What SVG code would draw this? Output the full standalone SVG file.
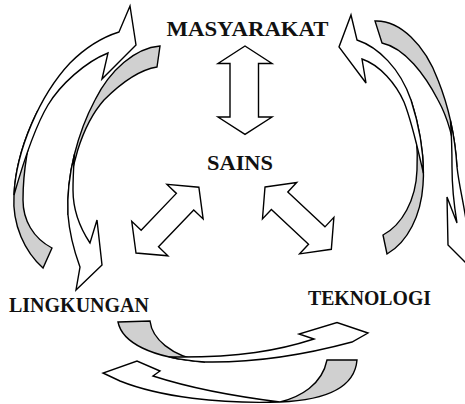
<svg xmlns="http://www.w3.org/2000/svg" width="465" height="404" viewBox="0 0 465 404">
<style>
.w{fill:#ffffff;stroke:#000;stroke-width:1.4;stroke-linejoin:miter}
.g{fill:#d0d0d0;stroke:#000;stroke-width:1.4;stroke-linejoin:miter}
.t{font-family:"Liberation Serif","Times New Roman",serif;font-weight:bold;fill:#111}
</style>
<defs>
<path id="dbl" d="M0,0 L20,-25 L20,-12 L71,-12 L71,-25 L91,0 L71,25 L71,12 L20,12 L20,25 Z"/>
</defs>
<rect width="465" height="404" fill="#fff"/>
<g id="connectors">
<g id="left-cycle">
<path class="g" d="M160,46 C135,48 110,70 95,100 C78,132 66,175 68,215 C68,170 82,125 104,100 C118,86 138,70 157,67 Z"/>
<path class="w" d="M74.4,154.5 C69.5,174.25 67,195 68,215 C70,240 76,256 80,267 L76,290 L102,265 L97,220 L90,243 C80,228 73,210 73,190 C73,175 74,162 74.4,154.5 Z"/>
<path class="g" d="M52,248 L43,268 C25,252 12,225 14,195 C15.2,168 24.32,137.4 37.9,110.3 C29,138 23,170 23,200 C23,220 33,238 52,248 Z"/>
<path class="w" d="M14,195 C16,150 40,95 70,63 C85,48 103,37 119,32 L130,6 L136,45 L102,79 L108,53 C85,62 60,85 48,105 C36,125 24,160 14,195 Z"/>
</g>
<g id="right-cycle">
<path class="g" d="M375,21 C400,20 425,45 438,80 C448,105 455,135 457,167 C454,140 448,118 438,100 C425,75 405,48 382,43 Z"/>
<path class="w" d="M450.5,120.9 C453.75,135.5 456,151 457,167 C459,185 463,200 466,220 C470,235 474,245 478,252 L478,275 L448,245 L447,197 L457,223 C454,205 452,185 452,167 C452,150 451.5,135 450.5,120.9 Z"/>
<path class="g" d="M383,235 L387,254 C408,242 421,215 423,185 C425,160 420,128 411,100 C416,125 418,150 417,170 C416,200 402,225 383,235 Z"/>
<path class="w" d="M423.4,173.2 C423.41,150.05 418.65,123.8 411,100 C400,68 378,47 357,40 L351,15 L339,47 L366,83 L362,59 C380,65 396,84 404,102 C412,122 418,150 423.4,173.2 Z"/>
</g>
<g id="bottom-cycle">
<path class="g" d="M118,322 L150,321 C152,338 170,356 205,362 C150,358 122,342 118,322 Z"/>
<path class="w" d="M168.8,356.9 C179.1,359.25 191.25,361 205,362 C260,363 315,352 352,342 L368,333 L337,322.5 L299,334 L314,339 C280,350 240,358 168.8,356.9 Z"/>
<path class="g" d="M327,360 L357,360 C355,385 330,400 280,402 C300,397 322,385 327,360 Z"/>
<path class="w" d="M280,402 C220,404 160,397 120,381 L103,373 L137,361 L160,371 L153,376 C190,388 240,397 280,402 Z"/>
</g>
<g id="arrow-masyarakat-sains">
<path class="w" d="M245,46 L272,63.5 L258.5,63.5 L258.5,117 L272,117 L245,134.3 L218,117 L230,117 L230,63.5 L218,63.5 Z"/>
</g>
<g id="arrow-sains-lingkungan">
<use href="#dbl" class="w" transform="translate(136,253) rotate(-46.3)"/>
</g>
<g id="arrow-sains-teknologi">
<use href="#dbl" class="w" transform="translate(265,187) rotate(43.2)"/>
</g>
</g>
<g id="node-masyarakat"><text class="t" x="166.5" y="35.5" font-size="21.5" textLength="162" lengthAdjust="spacingAndGlyphs">MASYARAKAT</text></g>
<g id="node-sains"><text class="t" x="207" y="170" font-size="21.5" textLength="66" lengthAdjust="spacingAndGlyphs">SAINS</text></g>
<g id="node-lingkungan"><text class="t" x="9" y="311.5" font-size="20" textLength="140" lengthAdjust="spacingAndGlyphs">LINGKUNGAN</text></g>
<g id="node-teknologi"><text class="t" x="308" y="305" font-size="20" textLength="123" lengthAdjust="spacingAndGlyphs">TEKNOLOGI</text></g>
</svg>
